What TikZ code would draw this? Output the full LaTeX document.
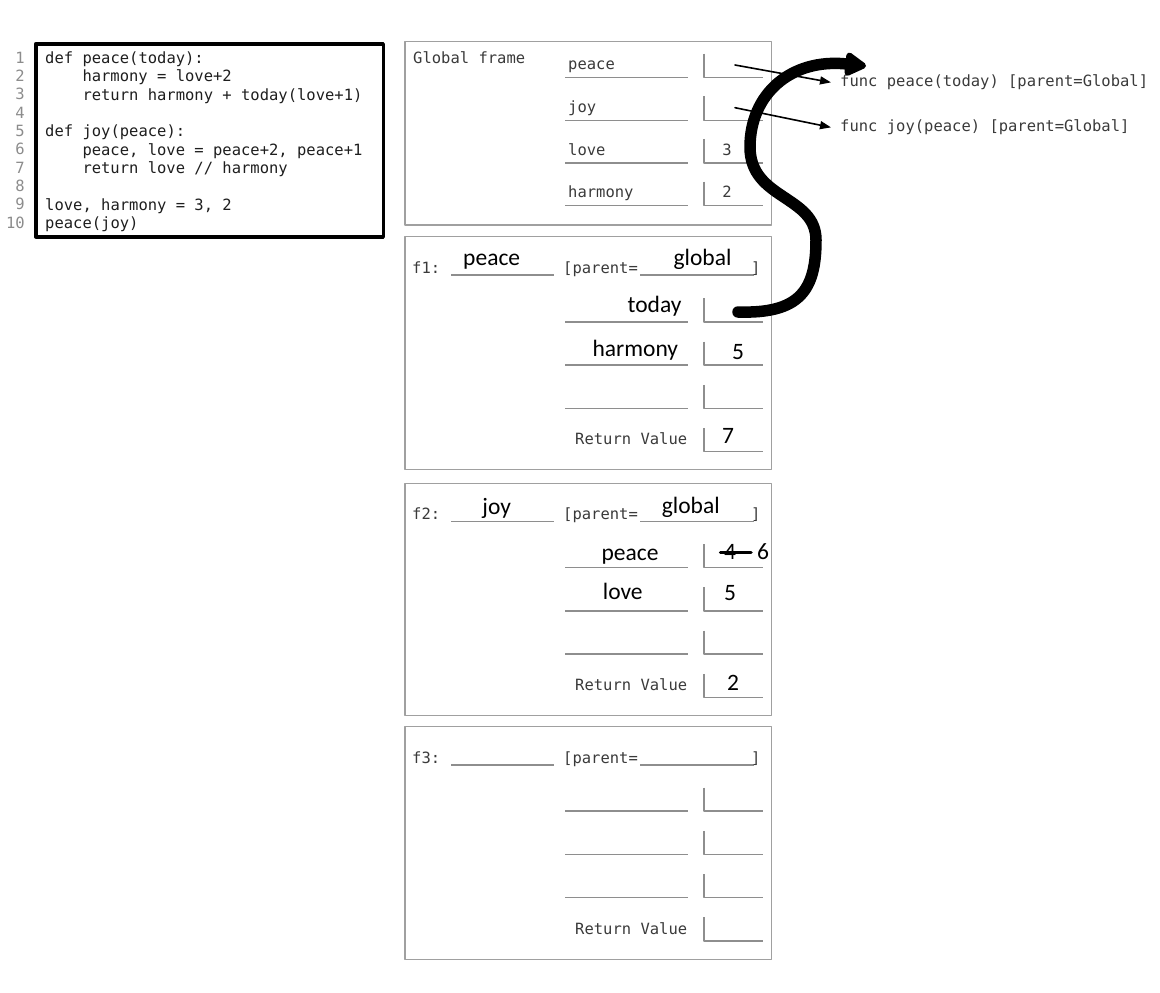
\documentclass[tikz,border=0pt]{standalone}
\usepackage{fontspec}
\setmonofont{DejaVu Sans Mono}
\newfontfamily\handfont{Carlito}
\usetikzlibrary{arrows.meta,positioning}
\definecolor{framegray}{HTML}{A0A0A0}
\definecolor{linegray}{HTML}{8E8E8E}
\definecolor{codegray}{HTML}{1E1E1E}
\definecolor{labelgray}{HTML}{3A3A3A}
\definecolor{numgray}{HTML}{8C8C8C}
\newcommand{\monosize}{\fontsize{15.5}{18.3}\selectfont\ttfamily}
\newcommand{\handsize}{\fontsize{23.5}{26}\selectfont\handfont}
\tikzset{
  codetext/.style={font=\monosize,text=codegray,inner sep=0pt,anchor=base west},
  linenum/.style={font=\monosize,text=numgray,inner sep=0pt,anchor=base east},
  cellname/.style={font=\monosize,text=labelgray,inner sep=0pt,anchor=base west},
  cellvalue/.style={cellname,anchor=base},
  handtext/.style={font=\handsize,text=black,inner sep=0pt,anchor=base},
  framebox/.style={draw=framegray,line width=1.3pt,inner sep=0pt,outer sep=0pt,anchor=north west},
  slotline/.style={draw=linegray,line width=1.4pt,line cap=butt},
  pointer/.style={line width=1.6pt,-{Triangle[length=11pt,width=8pt]}},
  bigarrow/.style={line width=11.5pt,-{Triangle[length=24pt,width=26pt,round]}},
  every picture/.style={line cap=round,line join=round}
}

\begin{document}
\begin{tikzpicture}[x=1pt,y=-1pt]
  \useasboundingbox (0,0) rectangle (1160,993);

  % source code
  \node[draw,line width=3.5pt,inner sep=0pt,anchor=north west,
        minimum width=347.5pt,minimum height=193pt] (codebox) at (34,42) {};
  \foreach \i in {1,...,10}
    \node[linenum] (num\i) at (25,{63.3+18.33*(\i-1)}) {\i};
  \node[codetext] (code1) at (45,63.3) {def peace(today):};
  \node[codetext] (code2) at (82.3,81.6) {harmony = love+2};
  \node[codetext] (code3) at (82.3,100) {return harmony + today(love+1)};
  \node[codetext] (code5) at (45,136.6) {def joy(peace):};
  \node[codetext] (code6) at (82.3,155) {peace, love = peace+2, peace+1};
  \node[codetext] (code7) at (82.3,173.3) {return love // harmony};
  \node[codetext] (code9) at (45,210) {love, harmony = 3, 2};
  \node[codetext] (code10) at (45,228.3) {peace(joy)};

  % global frame
  \node[framebox,minimum width=366.5pt,minimum height=183.3pt] (gframe) at (405,41.7) {};
  \node[cellname] (gtitle) at (413,63.3) {Global frame};
  \foreach \name [count=\k from 0] in {peace,joy,love,harmony} {
    \pgfmathsetmacro\u{77.5+42.7*\k}
    \node[cellname] (g-\name) at (568,\u-7.7) {\name};
    \draw[slotline] (565,\u) -- (687.5,\u);
    \draw[slotline] (704,\u-24) -- (704,\u) -- (763,\u);
    \coordinate (gv-\name) at (735,\u-12.5);
  }
  \node[cellvalue] (g-three) at (727,155) {3};
  \node[cellvalue] (g-two) at (727,197.5) {2};

  % function objects
  \node[cellname] (fpeace) at (840,86.7) {func peace(today) [parent=Global]};
  \node[cellname] (fjoy) at (840,131.7) {func joy(peace) [parent=Global]};
  \draw[pointer] (gv-peace) -- ([xshift=-9]fpeace.west);
  \draw[pointer] (gv-joy) -- ([xshift=-9]fjoy.west);

  % local frames
  \foreach \f/\top/\row in {1/236.7/321.8, 2/483.3/567.5, 3/726.7/811} {
    \node[framebox,minimum width=366.5pt,minimum height=232.5pt] (f\f) at (405,\top) {};
    \pgfmathsetmacro\hy{\top+36.3}
    \node[cellname] (f\f-tag) at (412,\hy) {f\f:};
    \draw[slotline] (451,\hy+2) -- (554,\hy+2);
    \node[cellname] (f\f-par) at (563,\hy) {[parent=};
    \draw[slotline] (640,\hy+2) -- (753.5,\hy+2);
    \node[cellname] (f\f-end) at (751,\hy) {]};
    \foreach \k in {0,...,3} {
      \pgfmathsetmacro\u{\row+43.3*\k}
      \ifnum\k<3 \draw[slotline] (565,\u) -- (687.5,\u); \fi
      \draw[slotline] (704,\u-23.5) -- (704,\u) -- (763,\u);
    }
    \node[cellname] (f\f-ret) at (575,\row+123.1) {Return Value};
  }

  % handwritten answers
  \node[handtext] (f1-name) at (491.7,265) {peace};
  \node[handtext] (f1-parent) at (702.5,265) {global};
  \node[handtext,anchor=base east] (f1-today) at (681.7,312.7) {today};
  \node[handtext,anchor=base east] (f1-harmony) at (678.3,356.7) {harmony};
  \node[handtext] (f1-five) at (738,359.5) {5};
  \node[handtext] (f1-seven) at (728,443.3) {7};

  \node[handtext] (f2-name) at (496.7,514.3) {joy};
  \node[handtext] (f2-parent) at (690.8,513.3) {global};
  \node[handtext] (f2-peace) at (630,560) {peace};
  \node[handtext] (f2-love) at (622.8,599.3) {love};
  \node[handtext] (f2-four) at (730,559.3) {4};
  \draw[line width=3.5pt] (720.5,552.7) -- (751,552.7);
  \node[handtext] (f2-six) at (763,559.3) {6};
  \node[handtext] (f2-five) at (730,600) {5};
  \node[handtext] (f2-two) at (733,690.7) {2};

  % today points at peace
  \coordinate (todayptr) at (738,312);
  \coordinate (peacetip) at (866,66);
  \draw[bigarrow] (todayptr) .. controls (800,314) and (816,290) .. (816,240)
    .. controls (816,195) and (750,200) .. (750,147)
    .. controls (750,95) and (790,58) .. (peacetip);
\end{tikzpicture}
\end{document}
